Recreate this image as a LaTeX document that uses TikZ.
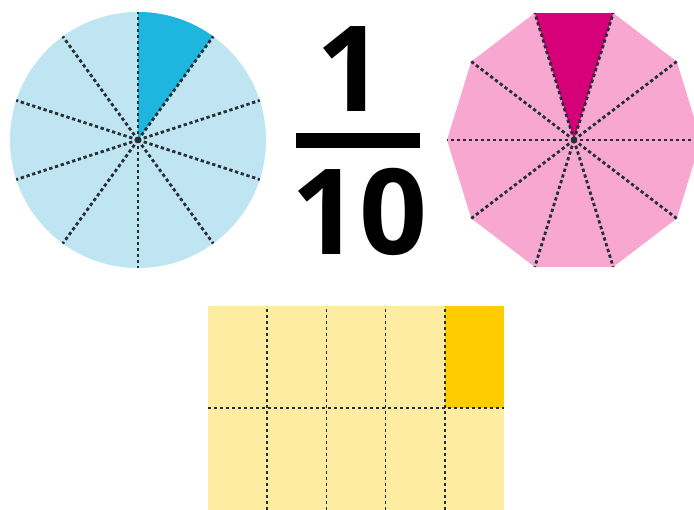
\documentclass[tikz,border=0pt]{standalone}
\usepackage{fontspec}
\newfontfamily\numfont{Open Sans}
\definecolor{pieblue}{RGB}{191,229,242}
\definecolor{pieblueD}{RGB}{30,182,222}
\definecolor{decapink}{RGB}{248,168,208}
\definecolor{decapinkD}{RGB}{214,0,120}
\definecolor{gridyel}{RGB}{255,236,163}
\definecolor{gridyelD}{RGB}{255,204,0}
\definecolor{cutgray}{RGB}{38,46,56}

\begin{document}
\begin{tikzpicture}[x=1pt, y=1pt,
    cut/.style={cutgray, line width=2.8pt, dash pattern=on 3.3pt off 2.7pt},
    thincut/.style={cutgray, line width=1.7pt, dash pattern=on 3pt off 3pt},
    digits/.style={font=\numfont\bfseries\fontsize{119}{119}\selectfont, inner sep=0pt, anchor=base}
]
\useasboundingbox (0,0) rectangle (694,510);

% circle
\fill[pieblue] (138,370) circle[radius=128];
\fill[pieblueD] (138,370) -- ++(90:128) arc[start angle=90, end angle=54, radius=128] -- cycle;
\foreach \a in {18,54,...,342}
  \draw[cut] (138,370) -- ++(\a:128);

% fraction
\node[digits] (one) at (350,398) {1};
\fill (296,362) rectangle (420,377);
\node[digits] (ten) at (359,255) {10};

% decagon
\begin{scope}[shift={(574,370)}]
\fill[decapink] (0:127 and 133.5) \foreach \a in {36,72,...,324} {-- (\a:127 and 133.5)} -- cycle;
\fill[decapinkD] (0,0) -- (72:127 and 133.5) -- (108:127 and 133.5) -- cycle;
\foreach \a in {0,36,...,324}
  \draw[cut] (0,0) -- (\a:127 and 133.5);
\end{scope}

% grid
\fill[gridyel] (208,0) rectangle (504,204);
\fill[gridyelD] (445,102) rectangle (504,204);
\foreach \i in {1,...,4}
  \draw[thincut] ({208+59.2*\i},0) -- ({208+59.2*\i},204);
\draw[thincut] (208,102) -- (504,102);
\end{tikzpicture}
\end{document}
